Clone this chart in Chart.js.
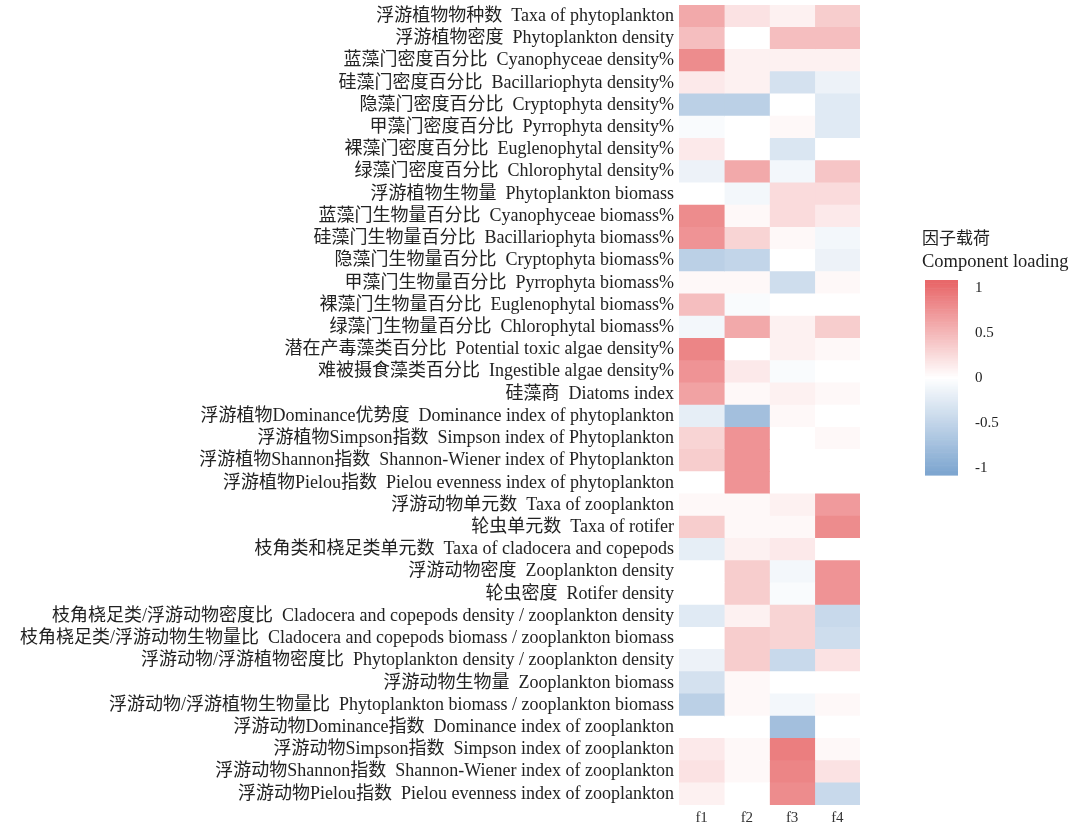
<!DOCTYPE html>
<html>
<head>
<meta charset="utf-8">
<script src="https://cdn.jsdelivr.net/npm/chart.js@4.4.1/dist/chart.umd.min.js"></script>
<style>
  html, body { margin: 0; padding: 0; background: #ffffff; }
  #wrap { width: 1077px; height: 827px; position: relative; }
</style>
</head>
<body>
<div id="wrap"><canvas id="c"></canvas></div>
<script>
// Indicator names (Chinese / English), top to bottom
const namesZh = [
  '浮游植物物种数', '浮游植物密度', '蓝藻门密度百分比', '硅藻门密度百分比', '隐藻门密度百分比',
  '甲藻门密度百分比', '裸藻门密度百分比', '绿藻门密度百分比', '浮游植物生物量', '蓝藻门生物量百分比',
  '硅藻门生物量百分比', '隐藻门生物量百分比', '甲藻门生物量百分比', '裸藻门生物量百分比', '绿藻门生物量百分比',
  '潜在产毒藻类百分比', '难被摄食藻类百分比', '硅藻商', '浮游植物Dominance优势度', '浮游植物Simpson指数',
  '浮游植物Shannon指数', '浮游植物Pielou指数', '浮游动物单元数', '轮虫单元数', '枝角类和桡足类单元数',
  '浮游动物密度', '轮虫密度', '枝角桡足类/浮游动物密度比', '枝角桡足类/浮游动物生物量比', '浮游动物/浮游植物密度比',
  '浮游动物生物量', '浮游动物/浮游植物生物量比', '浮游动物Dominance指数', '浮游动物Simpson指数', '浮游动物Shannon指数',
  '浮游动物Pielou指数'
];
const namesEn = [
  'Taxa of phytoplankton', 'Phytoplankton density', 'Cyanophyceae density%', 'Bacillariophyta density%', 'Cryptophyta density%',
  'Pyrrophyta density%', 'Euglenophytal density%', 'Chlorophytal density%', 'Phytoplankton biomass', 'Cyanophyceae biomass%',
  'Bacillariophyta biomass%', 'Cryptophyta biomass%', 'Pyrrophyta biomass%', 'Euglenophytal biomass%', 'Chlorophytal biomass%',
  'Potential toxic algae density%', 'Ingestible algae density%', 'Diatoms index', 'Dominance index of phytoplankton', 'Simpson index of Phytoplankton',
  'Shannon-Wiener index of Phytoplankton', 'Pielou evenness index of phytoplankton', 'Taxa of zooplankton', 'Taxa of rotifer', 'Taxa of cladocera and copepods',
  'Zooplankton density', 'Rotifer density', 'Cladocera and copepods density / zooplankton density', 'Cladocera and copepods biomass / zooplankton biomass', 'Phytoplankton density / zooplankton density',
  'Zooplankton biomass', 'Phytoplankton biomass / zooplankton biomass', 'Dominance index of zooplankton', 'Simpson index of zooplankton', 'Shannon-Wiener index of zooplankton',
  'Pielou evenness index of zooplankton'
];

const factors = ['f1', 'f2', 'f3', 'f4'];

// Component loadings per factor
const f1 = [ 0.60,  0.45,  0.80,  0.15, -0.55, -0.05,  0.15, -0.15,  0.00,  0.80,
             0.75, -0.55,  0.05,  0.45, -0.10,  0.85,  0.75,  0.65, -0.20,  0.30,
             0.35,  0.00,  0.05,  0.35, -0.20,  0.00,  0.00, -0.25,  0.00, -0.15,
            -0.35, -0.55,  0.00,  0.15,  0.20,  0.10];
const f2 = [ 0.20,  0.00,  0.10,  0.10, -0.55,  0.00,  0.00,  0.60, -0.10,  0.05,
             0.30, -0.50,  0.05, -0.05,  0.60,  0.00,  0.15,  0.05, -0.75,  0.75,
             0.75,  0.75,  0.05,  0.05,  0.10,  0.35,  0.35,  0.10,  0.35,  0.35,
             0.05,  0.05,  0.00,  0.05,  0.05,  0.00];
const f3 = [ 0.10,  0.45,  0.10, -0.35,  0.00,  0.05, -0.30, -0.10,  0.25,  0.25,
             0.05,  0.00, -0.40,  0.00,  0.10,  0.10, -0.05,  0.10,  0.05,  0.00,
             0.00,  0.00,  0.10,  0.05,  0.15, -0.10, -0.05,  0.30,  0.30, -0.45,
             0.00, -0.10, -0.75,  0.90,  0.85,  0.80];
const f4 = [ 0.35,  0.45,  0.10, -0.15, -0.25, -0.25,  0.00,  0.40,  0.25,  0.15,
            -0.10, -0.15,  0.05,  0.00,  0.35,  0.05,  0.00,  0.05,  0.00,  0.05,
             0.00,  0.00,  0.70,  0.80,  0.00,  0.75,  0.75, -0.45, -0.40,  0.20,
             0.00,  0.05,  0.00,  0.05,  0.20, -0.45];

const legendTicks = [1, 0.5, 0, -0.5, -1];

const rowLabels = namesZh.map((zh, i) => zh + '  ' + namesEn[i]);
const loadings = [f1, f2, f3, f4];

// Diverging colour scale: blue (-) -> white -> red (+)
const RED = [232, 104, 106];
const BLUE = [126, 166, 208];
const LIMIT = 1.05;
function loadingColor(v) {
  const t = Math.min(Math.abs(v) / LIMIT, 1);
  const end = v >= 0 ? RED : BLUE;
  const c = end.map(e => Math.round(255 + (e - 255) * t));
  return `rgb(${c[0]},${c[1]},${c[2]})`;
}

const FONT = "'Liberation Serif', 'Noto Sans CJK SC', serif";

// Colour bar legend drawn beside the heatmap
const colorBarPlugin = {
  id: 'colorBar',
  afterDraw(chart) {
    const ctx = chart.ctx;
    const x = 925, w = 33, top = 280, bottom = 475;
    const yFor = v => 378 - v * 90;
    ctx.save();
    ctx.fillStyle = '#222';
    ctx.font = "17px 'Noto Sans CJK SC', sans-serif";
    ctx.textBaseline = 'middle';
    ctx.textAlign = 'left';
    ctx.fillText('因子载荷', 922, 238);
    ctx.font = "18.5px " + FONT;
    ctx.fillText('Component loading', 922, 262);
    const topV = (378 - top) / 90, botV = (378 - bottom) / 90;
    const steps = 120;
    for (let s = 0; s < steps; s++) {
      const v = topV + (botV - topV) * (s + 0.5) / steps;
      ctx.fillStyle = loadingColor(v);
      const y0 = top + (bottom - top) * s / steps;
      ctx.fillRect(x, y0, w, (bottom - top) / steps + 0.6);
    }
    ctx.fillStyle = '#222';
    ctx.font = "15px " + FONT;
    legendTicks.forEach(v => {
      ctx.fillText(String(v), 975, yFor(v));
    });
    ctx.restore();
  }
};

const datasets = factors.map((name, k) => ({
  label: name,
  data: rowLabels.map(() => [k, k + 1]),
  backgroundColor: loadings[k].map(loadingColor),
  borderWidth: 0,
  barPercentage: 1.0,
  categoryPercentage: 1.0,
  grouped: false
}));

new Chart(document.getElementById('c'), {
  type: 'bar',
  data: { labels: rowLabels, datasets },
  options: {
    indexAxis: 'y',
    responsive: true,
    maintainAspectRatio: false,
    animation: false,
    layout: { padding: { top: 5, right: 217, bottom: 0, left: 0 } },
    plugins: {
      legend: { display: false },
      tooltip: { enabled: false },
      title: { display: false }
    },
    scales: {
      x: {
        type: 'linear',
        min: 0,
        max: 4,
        grid: { display: false, drawTicks: false },
        border: { display: false },
        afterBuildTicks: scale => {
          scale.ticks = factors.map((_, k) => ({ value: k + 0.5 }));
        },
        afterFit: scale => {
          scale.height = 22;
          scale.paddingLeft = 0;
          scale.paddingRight = 0;
        },
        ticks: {
          autoSkip: false,
          maxRotation: 0,
          padding: 4,
          color: '#333',
          font: { family: FONT, size: 15 },
          callback: v => factors[Math.floor(v)]
        }
      },
      y: {
        type: 'category',
        offset: true,
        grid: { display: false, drawTicks: false },
        border: { display: false },
        afterFit: scale => {
          scale.width = 679;
          scale.paddingTop = 0;
          scale.paddingBottom = 0;
        },
        ticks: {
          autoSkip: false,
          padding: 5,
          color: '#222',
          font: { family: FONT, size: 18 }
        }
      }
    }
  },
  plugins: [colorBarPlugin]
});
</script>
</body>
</html>
